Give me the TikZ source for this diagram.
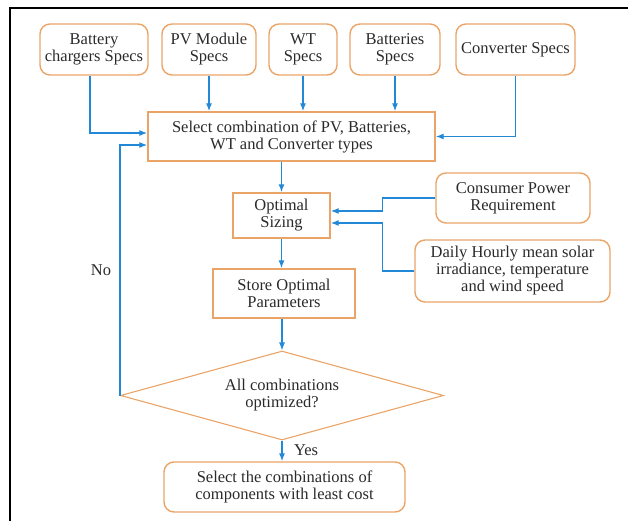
\documentclass[tikz,border=0pt]{standalone}
\usepackage{fontspec}
\setmainfont{Liberation Serif}
\usetikzlibrary{arrows.meta,positioning,shapes.geometric}
\definecolor{peach}{HTML}{EBA468}
\definecolor{sky}{HTML}{2189D8}
\definecolor{ink}{HTML}{2A2A2A}
\tikzset{box/.style={draw=peach,line width=1.4pt,align=center,font=\fontsize{16.5}{17}\selectfont,text=ink,inner sep=1pt},spec/.style={box,rounded corners=10pt,minimum height=51pt},flow/.style={-{Latex[length=8pt,width=6pt]},line width=1.2pt,draw=sky},lbl/.style={font=\fontsize{16.5}{17}\selectfont,text=ink,inner sep=0pt}}
\begin{document}
\begin{tikzpicture}[x=1pt,y=-1pt]
\useasboundingbox (0,0) rectangle (628,521);
\draw[line width=2pt] (10,521)--(10,8)--(628,8);
\node[spec,minimum width=108pt] (chg) at (94,49.5) {Battery\\chargers Specs};
\node[spec,minimum width=94pt] (pv) at (209,49.5) {PV Module\\Specs};
\node[spec,minimum width=68pt] (wt) at (303,49.5) {WT\\Specs};
\node[spec,minimum width=90pt] (bat) at (395,49.5) {Batteries\\Specs};
\node[spec,minimum width=119pt] (conv) at (515.5,49.5) {Converter Specs};
\node[box,minimum width=287pt,minimum height=49pt] (sel) at (291.5,136.5) {Select combination of PV, Batteries,\\WT and Converter types};
\node[box,minimum width=97pt,minimum height=45pt] (opt) at (281.5,215.5) {Optimal\\Sizing};
\node[spec,minimum width=154pt,minimum height=50pt] (cons) at (513,198) {Consumer Power\\Requirement};
\node[spec,minimum width=195pt,minimum height=62pt] (day) at (512.5,271) {Daily Hourly mean solar\\irradiance, temperature\\and wind speed};
\node[box,minimum width=142pt,minimum height=49pt] (store) at (284,293.5) {Store Optimal\\Parameters};
\node[box,shape=diamond,aspect=3.63,line width=1.1pt,minimum width=323pt,minimum height=89pt,inner sep=0pt] (dec) at (282,395.5) {All combinations\\optimized?};
\node[spec,minimum width=241pt,minimum height=50pt] (best) at (284.5,487) {Select the combinations of\\components with least cost};
\node[lbl] (no) at (101,270) {No};
\node[lbl] (yes) at (306,450) {Yes};
\draw[flow] ([xshift=-4pt]chg.south) |- ([yshift=3.5pt]sel.west);
\draw[flow] (pv.south) -- (pv.south |- sel.north);
\draw[flow] (wt.south) -- (wt.south |- sel.north);
\draw[flow] (bat.south) -- (bat.south |- sel.north);
\draw[flow] (conv.south) |- (sel.east);
\draw[flow] (dec.west) |- ([yshift=-8.5pt]sel.west);
\draw[flow] (opt.north |- sel.south) -- (opt.north);
\draw[flow] (cons.west) -- ++(-53,0) |- ([yshift=4.5pt]opt.east);
\draw[flow] (day.west) -- ++(-32,0) |- ([yshift=-7.5pt]opt.east);
\draw[flow] (opt.south) -- (opt.south |- store.north);
\draw[flow] (dec.north |- store.south) -- (dec.north);
\draw[flow] (dec.south) -- (dec.south |- best.north);
\end{tikzpicture}
\end{document}
